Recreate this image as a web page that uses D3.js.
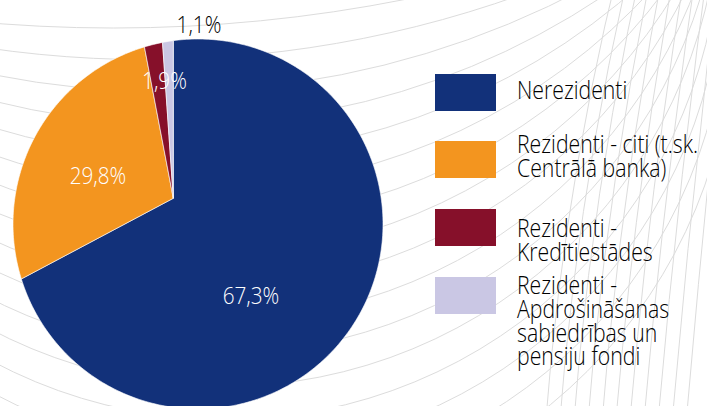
<!DOCTYPE html>
<html lang="lv">
<head>
<meta charset="utf-8">
<title>Turētāju struktūra</title>
<script src="https://d3js.org/d3.v7.min.js"></script>
<style>
  body { margin: 0; background: #fff; overflow: hidden; }
  svg { display: block; }
  .bg circle { fill: none; stroke: #dcdcdc; stroke-width: 1; }
  text { font-family: "Open Sans", sans-serif; font-weight: 350; }
</style>
</head>
<body>
<div id="chart"></div>
<script>
// data
const categories = ["Nerezidenti", "Rezidenti - citi (t.sk. Centrālā banka)",
                    "Rezidenti - Kredītiestādes",
                    "Rezidenti - Apdrošināšanas sabiedrības un pensiju fondi"];
const shares = [67.3, 29.8, 1.9, 1.1];
const shareLabels = ["67,3%", "29,8%", "1,9%", "1,1%"];
const legendLines = [["Nerezidenti"],
                     ["Rezidenti - citi (t.sk.", "Centrālā banka)"],
                     ["Rezidenti -", "Kredītiestādes"],
                     ["Rezidenti -", "Apdrošināšanas", "sabiedrības un", "pensiju fondi"]];
const colors = ["#12317a", "#f3951f", "#86102a", "#cac7e4"];
const labelColors = ["#fff", "#fff", "#fff", "#000"];

// layout
const width = 707, height = 406;
const apex = [173.3, 198.3];            // where the slices meet
const rim = {cx: 198, cy: 224, r: 185}; // outline of the pie
const labelPos = [[251, 304], [98, 184], [164.5, 89], [199, 33]];
const legend = {x: 435, w: 61, h: 37, tops: [74, 141, 209, 277], tx: 517,
                base: [[99], [153, 177], [237, 261], [294, 318, 342, 365]]};

const svg = d3.select("#chart").append("svg")
    .attr("width", width).attr("height", height);

// background: two pencils of circles, each through two points off the canvas
function pencil(g, A, B, depths) {
    const mid = [(A[0] + B[0]) / 2, (A[1] + B[1]) / 2];
    const half = Math.hypot(A[0] - B[0], A[1] - B[1]) / 2;
    const nrm = [(B[1] - A[1]) / (2 * half), (A[0] - B[0]) / (2 * half)];
    g.append("g").selectAll("circle").data(depths).join("circle")
        .each(function(D) {
            const t = (D * D - half * half) / (2 * D);
            d3.select(this)
              .attr("cx", mid[0] + t * nrm[0])
              .attr("cy", mid[1] + t * nrm[1])
              .attr("r", Math.hypot(half, t));
        });
}
const bg = svg.append("g").attr("class", "bg");
pencil(bg, [720, -100], [-267, -21], d3.range(84, 600, 33));
pencil(bg, [620, 1300], [780, -500], d3.range(12, 160, 14));

// pie
const pie = d3.pie().sort(null).value(d => d);
const arcs = pie(shares);

function rimPoint(a) {
    const u = [Math.sin(a), -Math.cos(a)];
    const w = [apex[0] - rim.cx, apex[1] - rim.cy];
    const b = w[0] * u[0] + w[1] * u[1];
    const s = -b + Math.sqrt(b * b - (w[0] * w[0] + w[1] * w[1] - rim.r * rim.r));
    return [apex[0] + s * u[0], apex[1] + s * u[1]];
}

const line = d3.line();
svg.append("g").selectAll("path").data(arcs).join("path")
    .attr("fill", (d, i) => colors[i])
    .attr("stroke", "#fff")
    .attr("stroke-width", 0.6)
    .attr("d", d => {
        const n = Math.max(2, Math.ceil((d.endAngle - d.startAngle) * 60));
        const pts = [apex].concat(d3.range(n + 1).map(k =>
            rimPoint(d.startAngle + (d.endAngle - d.startAngle) * k / n)));
        return line(pts) + "Z";
    });

// the type in the picture is narrow, so squeeze it sideways
const squeeze = (x, y, k) => `translate(${x},${y}) scale(${k},1)`;

svg.append("g").selectAll("text").data(shareLabels).join("text")
    .attr("transform", (d, i) => squeeze(labelPos[i][0], labelPos[i][1], 0.9))
    .attr("text-anchor", "middle")
    .attr("font-size", 23)
    .attr("fill", (d, i) => labelColors[i])
    .text(d => d);

// legend
const lg = svg.append("g");
lg.selectAll("rect").data(categories).join("rect")
    .attr("x", legend.x).attr("y", (d, i) => legend.tops[i])
    .attr("width", legend.w).attr("height", legend.h)
    .attr("fill", (d, i) => colors[i]);

legendLines.forEach((lines, i) => {
    lg.append("g").selectAll("text").data(lines).join("text")
        .attr("transform", (d, j) => squeeze(legend.tx, legend.base[i][j], 0.85))
        .attr("font-size", 25)
        .attr("fill", "#000")
        .text(d => d);
});
</script>
</body>
</html>
